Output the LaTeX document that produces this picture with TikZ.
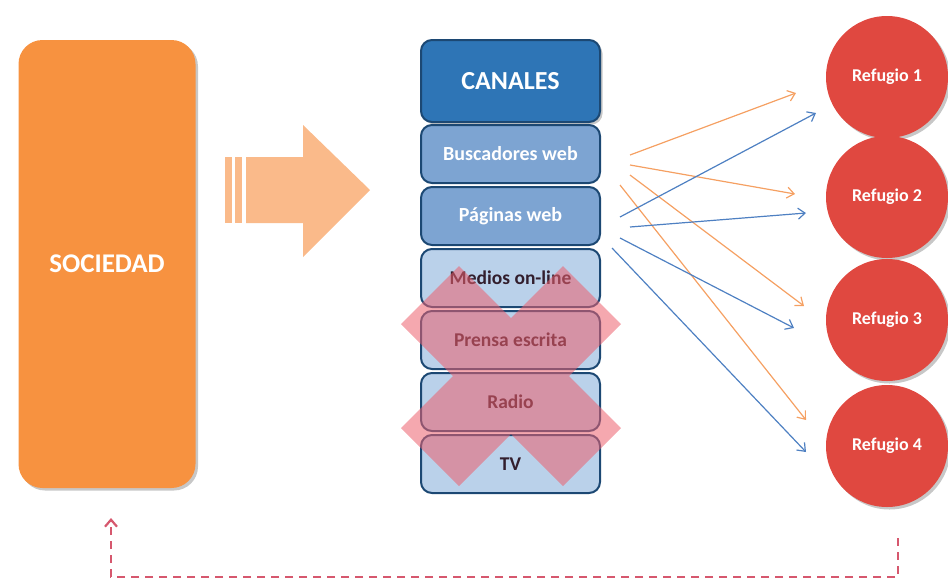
\documentclass[tikz,border=0pt]{standalone}
\usepackage{fontspec}
\setmainfont{Carlito}
\usetikzlibrary{arrows.meta,shadows}
\definecolor{socorange}{RGB}{247,146,64}
\definecolor{bigarrow}{RGB}{250,186,138}
\definecolor{navy}{RGB}{28,72,115}
\definecolor{canblue}{RGB}{46,117,182}
\definecolor{midblue}{RGB}{125,164,210}
\definecolor{lightblue}{RGB}{186,209,234}
\definecolor{darktext}{RGB}{50,30,45}
\definecolor{xpink}{RGB}{236,96,110}
\definecolor{refred}{RGB}{224,72,64}
\definecolor{lineorange}{RGB}{245,160,98}
\definecolor{lineblue}{RGB}{78,128,194}
\definecolor{fbred}{RGB}{214,88,110}
\begin{document}
\begin{tikzpicture}[x=1pt,y=-1pt,
  softshadow/.style={drop shadow={shadow xshift=2.5pt,shadow yshift=-2.5pt,opacity=0.22,fill=black}},
  socbox/.style={fill=socorange,rounded corners=24pt,minimum width=177pt,minimum height=448pt,
    text=white,font=\bfseries\fontsize{27}{30}\selectfont,inner sep=0pt,softshadow},
  chanbox/.style={draw=navy,line width=2pt,rounded corners=11pt,minimum width=179pt,
    minimum height=58pt,inner sep=0pt},
  headbox/.style={chanbox,fill=canblue,minimum height=82pt,text=white,
    font=\bfseries\fontsize{26}{30}\selectfont,softshadow},
  webbox/.style={chanbox,fill=midblue,text=white,font=\bfseries\fontsize{20}{22}\selectfont},
  oldbox/.style={chanbox,fill=lightblue,text=darktext,font=\bfseries\fontsize{19.5}{22}\selectfont},
  refugio/.style={circle,fill=refred,minimum size=122pt,inner sep=0pt,text=white,
    font=\bfseries\fontsize{18}{20}\selectfont,softshadow},
  olink/.style={draw=lineorange,line width=1.2pt,-{Straight Barb[length=7pt,width=11pt]}},
  blink/.style={draw=lineblue,line width=1.2pt,-{Straight Barb[length=7pt,width=11pt]}},
  feedback/.style={draw=fbred,line width=2.2pt,dash pattern=on 8pt off 6pt,
    -{Straight Barb[length=7pt,width=12pt]}}
]
\useasboundingbox (0,0) rectangle (948,582);

% Sociedad
\node[socbox] (soc) at (107,264) {SOCIEDAD};

% big striped arrow
\fill[bigarrow] (225,157) rectangle (232,223);
\fill[bigarrow] (235,157) rectangle (242,223);
\fill[bigarrow] (246,157) -- (303,157) -- (303,125) -- (370,190) -- (303,257)
  -- (303,223) -- (246,223) -- cycle;

% channels
\node[headbox] (can) at (510.5,81) {CANALES};
\node[webbox] (bus) at (510.5,154) {Buscadores web};
\node[webbox] (pag) at (510.5,216) {Páginas web};
\node[oldbox] (med) at (510.5,278) {Medios on-line};
\node[oldbox] (pre) at (510.5,340) {Prensa escrita};
\node[oldbox] (rad) at (510.5,402) {Radio};
\node[oldbox] (tv) at (510.5,464) {TV};

% red cross
\fill[xpink,fill opacity=0.55]
  (459,266) -- (511,318) -- (563,266) -- (621,324) -- (569,376) -- (621,428)
  -- (563,486) -- (511,434) -- (459,486) -- (401,428) -- (453,376) -- (401,324) -- cycle;

% refugios
\node[refugio] (r1) at (887,77) {Refugio 1};
\node[refugio] (r2) at (887,197) {Refugio 2};
\node[refugio] (r3) at (887,320) {Refugio 3};
\node[refugio] (r4) at (887,446) {Refugio 4};

% link start / end points
\coordinate (o1s) at (630,155); \coordinate (o1e) at (796,93);
\coordinate (o2s) at (630,165); \coordinate (o2e) at (795,194);
\coordinate (o3s) at (630,175); \coordinate (o3e) at (804,306);
\coordinate (o4s) at (620,185); \coordinate (o4e) at (806,420);
\coordinate (b1s) at (620,217); \coordinate (b1e) at (816,113);
\coordinate (b2s) at (630,227); \coordinate (b2e) at (806,213);
\coordinate (b3s) at (620,238); \coordinate (b3e) at (794,328);
\coordinate (b4s) at (612,248); \coordinate (b4e) at (806,452);

\draw[olink] (o1s) -- (o1e);
\draw[olink] (o2s) -- (o2e);
\draw[olink] (o3s) -- (o3e);
\draw[olink] (o4s) -- (o4e);
\draw[blink] (b1s) -- (b1e);
\draw[blink] (b2s) -- (b2e);
\draw[blink] (b3s) -- (b3e);
\draw[blink] (b4s) -- (b4e);

% feedback
\coordinate (fbs) at (898,538);
\coordinate (fbr) at (898,577);
\coordinate (fbl) at (111,577);
\coordinate (fbe) at (111,518);
\draw[feedback] (fbs) -- (fbr) -- (fbl) -- (fbe);
\end{tikzpicture}
\end{document}
